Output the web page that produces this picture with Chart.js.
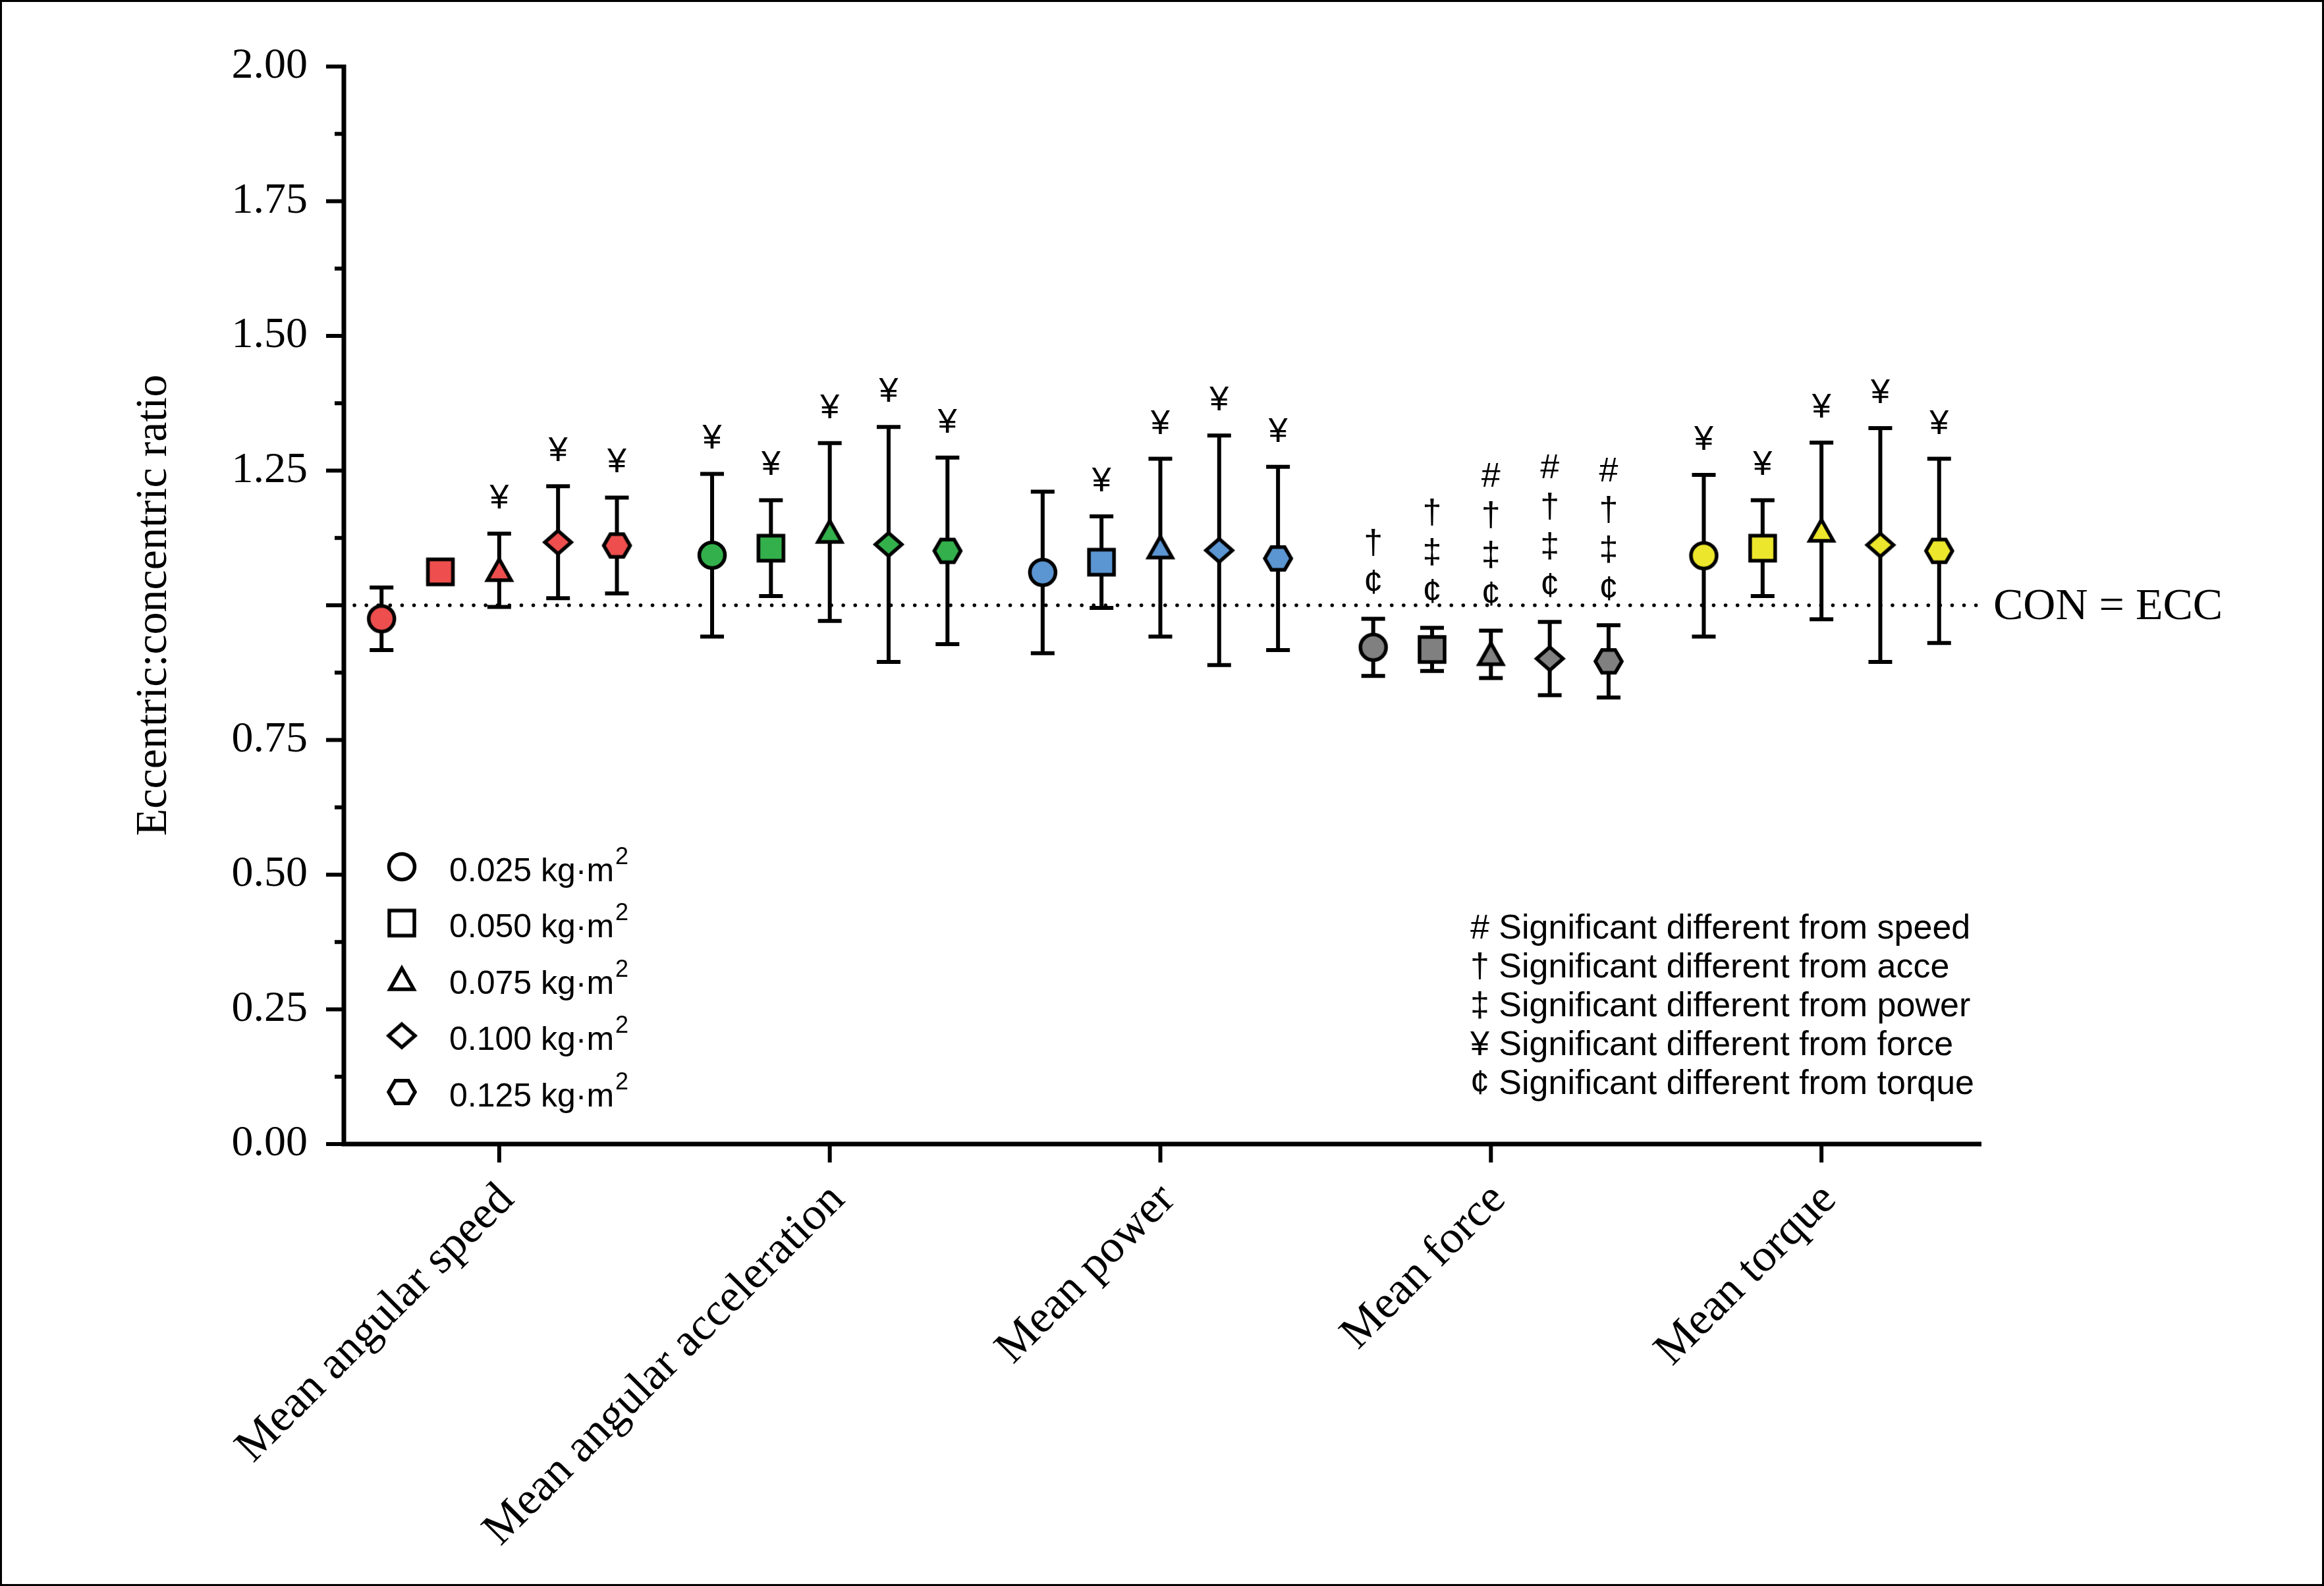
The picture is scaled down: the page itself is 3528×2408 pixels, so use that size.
<!DOCTYPE html>
<html>
<head>
<meta charset="utf-8">
<script src="https://cdn.jsdelivr.net/npm/chart.js@4.4.0/dist/chart.umd.min.js"></script>
<style>
html, body { margin: 0; padding: 0; background: #fff; }
canvas { display: block; }
</style>
</head>
<body>
<canvas id="myChart" width="3528" height="2408"></canvas>
<script>
// categories (x groups) and inertia levels (series)
var categories = ['Mean angular speed', 'Mean angular acceleration', 'Mean power', 'Mean force', 'Mean torque']
var inertias = ['0.025', '0.050', '0.075', '0.100', '0.125']

// mean eccentric:concentric ratio per inertia, in category order
var mean025 = [0.975, 1.093, 1.061, 0.922, 1.092]
var mean050 = [1.062, 1.106, 1.080, 0.918, 1.106]
var mean075 = [1.065, 1.136, 1.107, 0.909, 1.138]
var mean100 = [1.117, 1.113, 1.102, 0.901, 1.112]
var mean125 = [1.111, 1.101, 1.087, 0.896, 1.101]

// SD (error bar half length)
var sd025 = [0.058, 0.151, 0.150, 0.053, 0.150]
var sd050 = [0.010, 0.089, 0.085, 0.040, 0.089]
var sd075 = [0.068, 0.165, 0.165, 0.044, 0.164]
var sd100 = [0.104, 0.218, 0.213, 0.068, 0.217]
var sd125 = [0.089, 0.173, 0.170, 0.067, 0.171]

// significance marks above each bar, top to bottom
var sig025 = ['', '¥', '', '†¢', '¥']
var sig050 = ['', '¥', '¥', '†‡¢', '¥']
var sig075 = ['¥', '¥', '¥', '#†‡¢', '¥']
var sig100 = ['¥', '¥', '¥', '#†‡¢', '¥']
var sig125 = ['¥', '¥', '¥', '#†‡¢', '¥']

var sigKeys = ['#', '†', '‡', '¥', '¢']
var sigNames = ['speed', 'acce', 'power', 'force', 'torque']

// y tick labels (1.00 is left blank in the figure)
var yLabelValues = [0, 0.25, 0.5, 0.75, 1.25, 1.5, 1.75, 2]
var refLine = 1.0

var means = [mean025, mean050, mean075, mean100, mean125]
var sds = [sd025, sd050, sd075, sd100, sd125]
var sigs = [sig025, sig050, sig075, sig100, sig125]

var groupColors = ['#EE4E4E', '#33B04B', '#5B95D2', '#808080', '#ECE62C']
var shapes = ['circle', 'square', 'triangle', 'diamond', 'hexagon']
var groupSpread = 0.178

var serif = '"Liberation Serif", "Times New Roman", serif'
var sans = '"Liberation Sans", Arial, sans-serif'

function makeMarker(shape, fill) {
	var c = document.createElement('canvas')
	c.width = 60
	c.height = 60
	var g = c.getContext('2d')
	g.translate(30, 30)
	g.beginPath()
	if (shape === 'circle') {
		g.arc(0, 0, 19.5, 0, Math.PI * 2)
	} else if (shape === 'square') {
		g.rect(-19, -19, 38, 38)
	} else if (shape === 'triangle') {
		g.moveTo(0, -17)
		g.lineTo(18, 15)
		g.lineTo(-18, 15)
		g.closePath()
	} else if (shape === 'diamond') {
		g.moveTo(0, -17.5)
		g.lineTo(20, 0)
		g.lineTo(0, 17.5)
		g.lineTo(-20, 0)
		g.closePath()
	} else {
		for (var k = 0; k < 6; k++) {
			var a = k * Math.PI / 3
			if (k === 0) g.moveTo(20 * Math.cos(a), 20 * Math.sin(a))
			else g.lineTo(20 * Math.cos(a), 20 * Math.sin(a))
		}
		g.closePath()
	}
	if (fill) {
		g.fillStyle = fill
		g.fill()
	}
	g.lineWidth = 5.5
	g.lineJoin = 'miter'
	g.strokeStyle = '#000'
	g.stroke()
	return c
}

var markerImgs = shapes.map(function (s) { return groupColors.map(function (col) { return makeMarker(s, col) }) })
var legendImgs = shapes.map(function (s) { return makeMarker(s, null) })

var datasets = inertias.map(function (lab, si) {
	return {
		label: lab + ' kg·m²',
		data: categories.map(function (c, ci) { return { x: ci + (si - 2) * groupSpread, y: means[si][ci] } }),
		showLine: false,
		pointStyle: function (ctx) { return markerImgs[si][ctx.dataIndex] },
		pointRadius: 21,
		pointHoverRadius: 21
	}
})

var ratioPlugin = {
	id: 'ratioPlugin',
	beforeDraw: function (chart) {
		var ctx = chart.ctx
		ctx.save()
		ctx.fillStyle = '#fff'
		ctx.fillRect(0, 0, chart.width, chart.height)
		ctx.restore()
	},
	beforeDatasetsDraw: function (chart) {
		var ctx = chart.ctx
		var xs = chart.scales.x, ys = chart.scales.y
		var area = chart.chartArea
		ctx.save()
		// CON = ECC dotted line
		var yr = ys.getPixelForValue(refLine)
		ctx.strokeStyle = '#000'
		ctx.lineWidth = 5.5
		ctx.lineCap = 'round'
		ctx.setLineDash([0.1, 18])
		ctx.beginPath()
		ctx.moveTo(area.left + 16, yr)
		ctx.lineTo(area.right - 8, yr)
		ctx.stroke()
		ctx.setLineDash([])
		ctx.lineCap = 'butt'
		// error bars
		ctx.lineWidth = 6
		datasets.forEach(function (ds, si) {
			ds.data.forEach(function (p, ci) {
				var x = xs.getPixelForValue(p.x)
				var yh = ys.getPixelForValue(p.y + sds[si][ci])
				var yl = ys.getPixelForValue(p.y - sds[si][ci])
				ctx.beginPath()
				ctx.moveTo(x, yh); ctx.lineTo(x, yl)
				ctx.moveTo(x - 18, yh); ctx.lineTo(x + 18, yh)
				ctx.moveTo(x - 18, yl); ctx.lineTo(x + 18, yl)
				ctx.stroke()
			})
		})
		ctx.restore()
	},
	afterDraw: function (chart) {
		var ctx = chart.ctx
		var xs = chart.scales.x, ys = chart.scales.y
		var area = chart.chartArea
		var y0 = ys.getPixelForValue(0)
		ctx.save()
		ctx.strokeStyle = '#000'
		ctx.fillStyle = '#000'
		// axes
		ctx.lineWidth = 7
		ctx.beginPath()
		ctx.moveTo(area.left, ys.getPixelForValue(2) - 3)
		ctx.lineTo(area.left, y0 + 3.5)
		ctx.moveTo(area.left - 3.5, y0)
		ctx.lineTo(area.right, y0)
		ctx.stroke()
		// y ticks, major every 0.25, minor between
		ctx.lineWidth = 6
		ys.ticks.forEach(function (t) {
			var major = Math.abs(t.value * 4 - Math.round(t.value * 4)) < 1e-6
			var py = ys.getPixelForValue(t.value)
			ctx.beginPath()
			ctx.moveTo(area.left - (major ? 27 : 14), py)
			ctx.lineTo(area.left, py)
			ctx.stroke()
		})
		// x ticks
		xs.ticks.forEach(function (t) {
			var px = xs.getPixelForValue(t.value)
			ctx.beginPath()
			ctx.moveTo(px, y0)
			ctx.lineTo(px, y0 + 28)
			ctx.stroke()
		})
		// significance marks
		ctx.font = '52px ' + sans
		ctx.textAlign = 'center'
		ctx.textBaseline = 'alphabetic'
		datasets.forEach(function (ds, si) {
			ds.data.forEach(function (p, ci) {
				var marks = Array.from(sigs[si][ci])
				if (!marks.length) return
				var x = xs.getPixelForValue(p.x)
				var top = ys.getPixelForValue(p.y + sds[si][ci])
				for (var k = 0; k < marks.length; k++) {
					var m = marks[marks.length - 1 - k]
					ctx.fillText(m, x, top - 38 - k * 60)
				}
			})
		})
		// CON = ECC label
		ctx.font = '68px ' + serif
		ctx.textAlign = 'left'
		ctx.textBaseline = 'middle'
		ctx.fillText('CON = ECC', area.right + 18, ys.getPixelForValue(refLine) + 3)
		// inertia legend
		inertias.forEach(function (lab, i) {
			var ly = area.top + 1215 + i * 85.5
			var img = legendImgs[i]
			ctx.drawImage(img, area.left + 88 - img.width / 2, ly - img.height / 2)
			ctx.font = '50px ' + sans
			ctx.textBaseline = 'middle'
			var txt = lab + ' kg·m'
			ctx.fillText(txt, area.left + 160, ly + 8)
			var w = ctx.measureText(txt).width
			ctx.font = '36px ' + sans
			ctx.fillText('2', area.left + 162 + w, ly - 14)
		})
		// significance key
		ctx.font = '52px ' + sans
		sigKeys.forEach(function (k, i) {
			ctx.fillText(k + ' Significant different from ' + sigNames[i], 2232, area.top + 1310 + i * 59)
		})
		// outer frame
		ctx.lineWidth = 3
		ctx.strokeRect(1.5, 1.5, chart.width - 3, chart.height - 3)
		ctx.restore()
	}
}

var ctx = document.getElementById('myChart').getContext('2d')
var myChart = new Chart(ctx, {
	type: 'scatter',
	data: { datasets: datasets },
	plugins: [ratioPlugin],
	options: {
		responsive: false,
		animation: false,
		devicePixelRatio: 1,
		events: [],
		layout: { padding: { top: 101, right: 520, bottom: 0, left: 0 } },
		plugins: { legend: { display: false }, tooltip: { enabled: false } },
		scales: {
			x: {
				type: 'linear',
				min: -0.47,
				max: 4.484,
				afterBuildTicks: function (scale) {
					scale.ticks = categories.map(function (c, i) { return { value: i } })
				},
				afterFit: function (scale) { scale.height = 671 },
				grid: { display: false, drawTicks: false },
				border: { display: false },
				ticks: {
					autoSkip: false,
					minRotation: 45,
					maxRotation: 45,
					padding: 44,
					labelOffset: 12,
					color: '#000',
					font: { family: serif, size: 70 },
					callback: function (v) { return categories[Math.round(v)] }
				}
			},
			y: {
				min: 0,
				max: 2,
				afterBuildTicks: function (scale) {
					var t = []
					for (var i = 0; i <= 16; i++) t.push({ value: i * 0.125 })
					scale.ticks = t
				},
				afterFit: function (scale) { scale.width = 522 },
				grid: { display: false, drawTicks: false },
				border: { display: false },
				ticks: {
					autoSkip: false,
					padding: 55,
					color: '#000',
					font: { family: serif, size: 66 },
					callback: function (v) {
						var hit = yLabelValues.filter(function (t) { return Math.abs(t - v) < 1e-6 })
						return hit.length ? hit[0].toFixed(2) : ''
					}
				},
				title: {
					display: true,
					text: 'Eccentric:concentric ratio',
					color: '#000',
					font: { family: serif, size: 68 },
					padding: { top: 193, bottom: 0 }
				}
			}
		}
	}
})
</script>
</body>
</html>
